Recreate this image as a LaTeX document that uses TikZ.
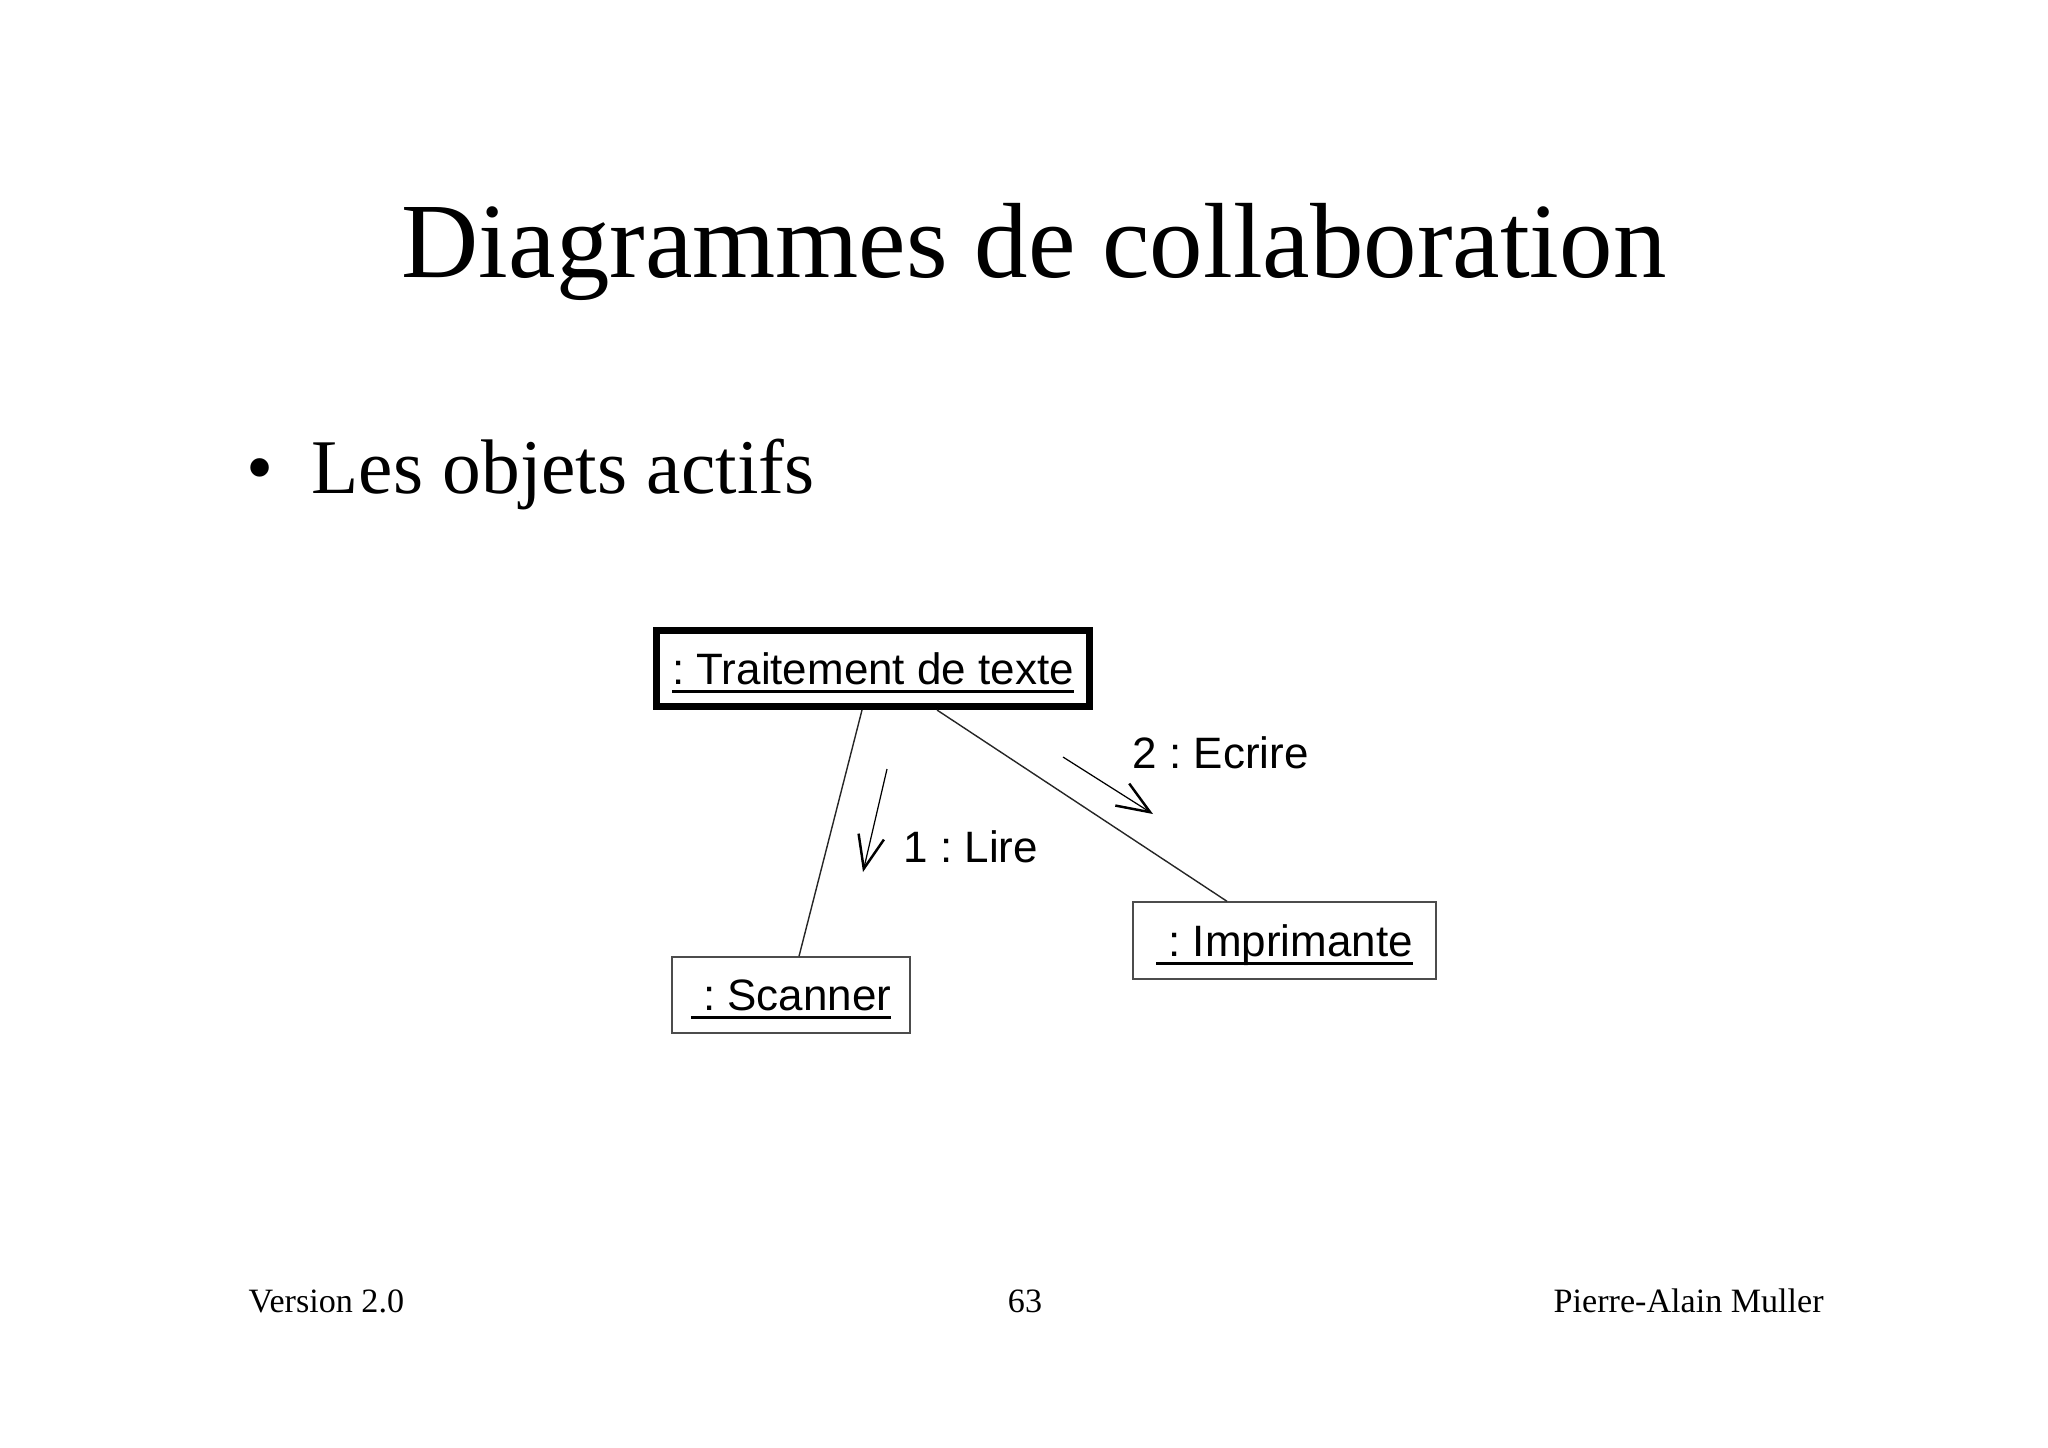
\documentclass[tikz,border=0pt]{standalone}
\usepackage{fontspec}
\setmainfont{Liberation Serif}
\newfontfamily\umlfont{Liberation Sans}
\usetikzlibrary{arrows.meta}
\frenchspacing

\begin{document}
\begin{tikzpicture}[
    x=.01cm,
    y=-.01cm,
    titletext/.style={
      anchor=base west,
      inner sep=0,
      font=\fontsize{30.4}{36}\selectfont,
    },
    bulletitem/.style={
      anchor=base west,
      inner sep=0,
      font=\fontsize{22}{26}\selectfont,
    },
    footertext/.style={
      inner sep=0,
      font=\fontsize{9.7}{11}\selectfont,
    },
    objbox/.style={
      draw=black!70,
      line width=.4pt,
      inner sep=0,
      minimum height=.76cm,
      text height=9pt,
      text depth=0pt,
      font=\umlfont\fontsize{12.5}{15}\selectfont,
    },
    activebox/.style={
      objbox,
      draw=black,
      line width=2pt,
    },
    linkline/.style={
      line width=.4pt,
      color=black!85,
    },
    msgarrow/.style={
      line width=.35pt,
      -{Straight Barb[length=.33cm,width=.26cm,line width=.7pt]},
    },
    msglabel/.style={
      anchor=base west,
      inner sep=0,
      font=\umlfont\fontsize{12.5}{15}\selectfont,
    },
  ]
    \newcommand\objname[1]{%
      \setbox0\hbox{#1}\rlap{\rule[-2.4pt]{\wd0}{.9pt}}\box0%
    }

    \useasboundingbox (0,0) rectangle (2048,1447);

    \node[titletext] (title) at (401,277) {Diagrammes de collaboration};
    \node[bulletitem] (dot) at (246,493) {\textbullet};
    \node[bulletitem] (point) at (311,493) {Les objets actifs};

    % objets
    \node[activebox,minimum width=4.33cm] (traitement) at (873,668.5)
      {\objname{: Traitement de texte}};
    \node[objbox,minimum width=2.38cm] (scanner) at (791,995)
      {\objname{\ : Scanner}};
    \node[objbox,minimum width=3.03cm,minimum height=.77cm] (imprimante) at (1284.5,940.5)
      {\objname{\ : Imprimante}};

    \draw[linkline] ([xshift=-.11cm]traitement.south) -- ([xshift=.08cm]scanner.north);
    \draw[linkline] ([xshift=.64cm]traitement.south) -- ([xshift=-.575cm]imprimante.north);

    % messages
    \coordinate (lire from) at (887,769);
    \coordinate (lire to) at (863,872);
    \draw[msgarrow] (lire from) -- (lire to);
    \node[msglabel] (lire) at (903,862) {1 : Lire};

    \coordinate (ecrire from) at (1063,757);
    \coordinate (ecrire to) at (1153,814);
    \draw[msgarrow] (ecrire from) -- (ecrire to);
    \node[msglabel] (ecrire) at (1132,768) {2 : Ecrire};

    \node[footertext,anchor=base west] (version) at (248,1312) {Version 2.0};
    \node[footertext,anchor=base] (page) at (1025,1312) {63};
    \node[footertext,anchor=base west] (author) at (1553,1312) {Pierre-Alain Muller};
  \end{tikzpicture}
\end{document}
